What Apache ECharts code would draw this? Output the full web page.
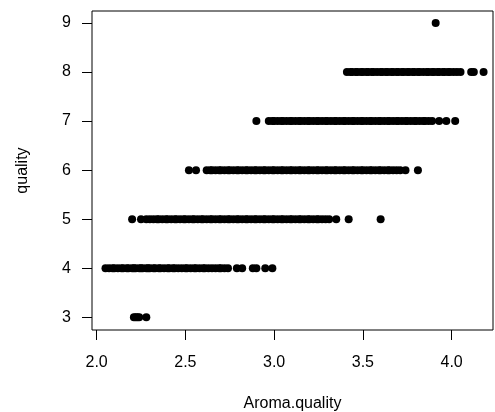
<!DOCTYPE html>
<html>
<head>
<meta charset="utf-8">
<script src="https://cdn.jsdelivr.net/npm/echarts@6/dist/echarts.min.js"></script>
<style>html,body{margin:0;padding:0;background:#fff}#c{width:495px;height:412px}</style>
</head>
<body>
<div id="c"></div>
<script>
var xTicks = [2.0, 2.5, 3.0, 3.5, 4.0];
var yTicks = [3, 4, 5, 6, 7, 8, 9];
var q3 = [2.21, 2.22, 2.23, 2.24, 2.28];
var q4 = [2.05,2.07,2.09,2.10,2.12,2.14,2.15,2.17,2.18,2.20,2.21,2.22,2.24,2.25,2.26,2.28,2.29,2.30,2.32,2.33,2.35,2.36,2.38,2.40,2.41,2.43,2.44,2.46,2.48,2.50,2.51,2.53,2.55,2.56,2.58,2.60,2.61,2.63,2.65,2.67,2.69,2.70,2.72,2.74,2.79,2.82,2.88,2.90,2.95,2.99];
var q5 = [2.20,2.25,2.28,2.30,2.32,2.34,2.35,2.37,2.39,2.40,2.42,2.44,2.45,2.47,2.49,2.50,2.52,2.54,2.55,2.57,2.59,2.60,2.62,2.64,2.65,2.67,2.69,2.70,2.72,2.74,2.75,2.77,2.79,2.80,2.82,2.84,2.85,2.87,2.89,2.90,2.92,2.94,2.95,2.97,2.99,3.00,3.02,3.04,3.05,3.07,3.09,3.10,3.12,3.14,3.15,3.17,3.19,3.20,3.22,3.24,3.25,3.27,3.29,3.31,3.35,3.42,3.60];
var q6 = [2.52,2.56,2.62,2.64,2.65,2.67,2.69,2.70,2.72,2.74,2.75,2.77,2.79,2.80,2.82,2.84,2.85,2.87,2.89,2.90,2.92,2.94,2.95,2.97,2.99,3.00,3.02,3.04,3.05,3.07,3.09,3.10,3.12,3.14,3.15,3.17,3.19,3.20,3.22,3.24,3.25,3.27,3.29,3.30,3.32,3.34,3.35,3.37,3.39,3.40,3.42,3.44,3.45,3.47,3.49,3.50,3.52,3.54,3.55,3.57,3.59,3.60,3.62,3.64,3.65,3.67,3.69,3.71,3.74,3.81];
var q7 = [2.90,2.97,2.99,3.00,3.02,3.04,3.05,3.07,3.09,3.10,3.12,3.14,3.15,3.17,3.19,3.20,3.22,3.24,3.25,3.27,3.29,3.30,3.32,3.34,3.35,3.37,3.39,3.40,3.42,3.44,3.45,3.47,3.49,3.50,3.52,3.54,3.55,3.57,3.59,3.60,3.62,3.64,3.65,3.67,3.69,3.70,3.72,3.74,3.75,3.77,3.79,3.80,3.82,3.84,3.85,3.87,3.89,3.93,3.97,4.02];
var q8 = [3.41,3.43,3.44,3.46,3.47,3.49,3.50,3.52,3.53,3.55,3.56,3.58,3.60,3.61,3.63,3.64,3.66,3.67,3.69,3.70,3.72,3.73,3.75,3.76,3.78,3.79,3.81,3.82,3.84,3.86,3.87,3.89,3.90,3.92,3.93,3.95,3.96,3.98,3.99,4.01,4.03,4.05,4.11,4.125,4.18];
var q9 = [3.91];

var groups = [[3, q3], [4, q4], [5, q5], [6, q6], [7, q7], [8, q8], [9, q9]];
var pts = [];
groups.forEach(function (g) { g[1].forEach(function (x) { pts.push([x, g[0]]); }); });

var font = "'Liberation Sans', Arial, Helvetica, sans-serif";
var chart = echarts.init(document.getElementById('c'), null, {renderer: 'canvas'});
chart.setOption({
  animation: false,
  backgroundColor: '#fff',
  grid: {left: 92, right: 2, top: 11, bottom: 82, show: true, borderColor: '#000', borderWidth: 1,
    backgroundColor: 'transparent', containLabel: false, outerBoundsMode: 'none'},
  xAxis: {
    type: 'value', min: 1.974, max: 4.233,
    name: 'Aroma.quality', nameLocation: 'middle', nameGap: 66,
    nameTextStyle: {fontFamily: font, fontSize: 16, color: '#000'},
    axisLine: {show: false},
    splitLine: {show: false},
    axisTick: {show: true, inside: false, length: 10, lineStyle: {color: '#000'}, customValues: xTicks},
    axisLabel: {fontFamily: font, fontSize: 16, color: '#000', margin: 25, customValues: xTicks,
      formatter: function (v) { return v.toFixed(1); }}
  },
  yAxis: {
    type: 'value', min: 2.74, max: 9.245,
    name: 'quality', nameLocation: 'middle', nameGap: 61, nameRotate: 90,
    nameTextStyle: {fontFamily: font, fontSize: 16, color: '#000'},
    axisLine: {show: false},
    splitLine: {show: false},
    axisTick: {show: true, inside: false, length: 10, lineStyle: {color: '#000'}, customValues: yTicks},
    axisLabel: {fontFamily: font, fontSize: 16, color: '#000', margin: 21, customValues: yTicks}
  },
  series: [{
    type: 'scatter', data: pts, symbol: 'circle', symbolSize: 8,
    itemStyle: {color: '#000', opacity: 1}
  }]
});
</script>
</body>
</html>
